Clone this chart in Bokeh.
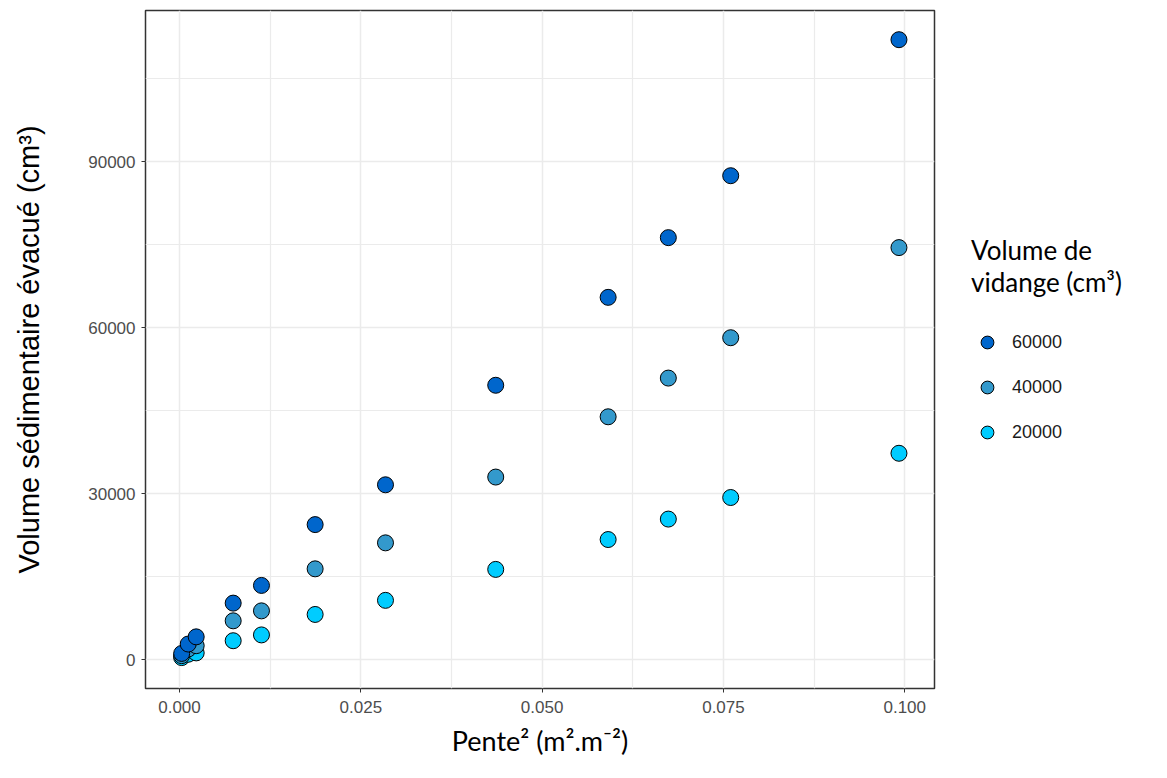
from bokeh.plotting import figure
from bokeh.models import Range1d, FixedTicker, Legend, LegendItem
from bokeh.embed import file_html
from bokeh.resources import INLINE

# ---- data ----
pente2 = [0.0003, 0.0012, 0.0023, 0.0074, 0.0113, 0.0187, 0.0284, 0.0436, 0.0591, 0.0674, 0.0760, 0.0992]
vol_60000 = [1100, 2800, 4100, 10200, 13400, 24400, 31600, 49600, 65500, 76300, 87500, 112100]
vol_40000 = [700, 1900, 2500, 7000, 8800, 16400, 21100, 33000, 43900, 50900, 58200, 74500]
vol_20000 = [350, 950, 1200, 3400, 4450, 8150, 10700, 16300, 21700, 25400, 29300, 37300]

series_labels = ["60000", "40000", "20000"]
series_values = [vol_60000, vol_40000, vol_20000]
series_colors = ["#0066CC", "#3399CC", "#00CCFF"]

x_ticks = [0.0, 0.025, 0.05, 0.075, 0.1]
x_tick_labels = ["0.000", "0.025", "0.050", "0.075", "0.100"]
x_minor = [0.0125, 0.0375, 0.0625, 0.0875]
y_ticks = [0, 30000, 60000, 90000]
y_tick_labels = ["0", "30000", "60000", "90000"]
y_minor = [15000, 45000, 75000, 105000]

p = figure(frame_width=789, frame_height=678, output_backend="svg", toolbar_location=None,
           x_range=Range1d(-0.00469, 0.1041), y_range=Range1d(-5241, 117380),
           min_border_left=145, min_border_right=222, min_border_top=10, min_border_bottom=78)

p.background_fill_color = "white"
p.border_fill_color = "white"
p.outline_line_color = "#333333"
p.outline_line_width = 1.5

p.xaxis.ticker = FixedTicker(ticks=x_ticks, minor_ticks=x_minor)
p.yaxis.ticker = FixedTicker(ticks=y_ticks, minor_ticks=y_minor)
p.xaxis.major_label_overrides = dict(zip(x_ticks, x_tick_labels))
p.yaxis.major_label_overrides = dict(zip(y_ticks, y_tick_labels))

for ax in (p.xaxis, p.yaxis):
    ax.axis_line_color = None
    ax.major_tick_line_color = "#333333"
    ax.major_tick_out = 4
    ax.major_tick_in = 0
    ax.minor_tick_line_color = None
    ax.major_label_text_font = "Liberation Sans"
    ax.major_label_text_font_size = "17px"
    ax.major_label_text_color = "#4D4D4D"
    ax.axis_label_text_font_style = "normal"
    ax.axis_label_text_color = "black"

p.xaxis.major_label_standoff = 8
p.yaxis.major_label_standoff = 6
p.xaxis.axis_label = "Pente² (m².m⁻²)"
p.xaxis.axis_label_text_font = "Lato"
p.xaxis.axis_label_text_font_size = "27px"
p.xaxis.axis_label_standoff = 8
p.yaxis.axis_label = "Volume sédimentaire évacué (cm³)"
p.yaxis.axis_label_text_font = "Liberation Sans"
p.yaxis.axis_label_text_font_size = "29px"
p.yaxis.axis_label_standoff = 40

for g in (p.xgrid, p.ygrid):
    g.grid_line_color = "#EBEBEB"
    g.grid_line_width = 1.5
    g.minor_grid_line_color = "#EBEBEB"
    g.minor_grid_line_width = 1.2

renderers = []
for lab, vals, col in reversed(list(zip(series_labels, series_values, series_colors))):
    r = p.scatter(pente2, vals, size=16, fill_color=col, line_color="black", line_width=1)
    renderers.append((lab, r))
renderers = renderers[::-1]

legend = Legend(items=[LegendItem(label=lab, renderers=[r]) for lab, r in renderers],
                location=(37, 240), margin=0, padding=0, spacing=13,
                border_line_color=None, background_fill_alpha=0,
                title="Volume de\nvidange (cm³)", title_text_font="Lato",
                title_text_font_size="26px", title_text_font_style="normal",
                title_text_color="black", title_standoff=28,
                label_text_font="Liberation Sans", label_text_font_size="18px",
                label_text_color="#1A1A1A", label_standoff=9,
                glyph_width=32, glyph_height=32)
p.add_layout(legend, "right")

open("out.html", "w").write(file_html(p, INLINE))
